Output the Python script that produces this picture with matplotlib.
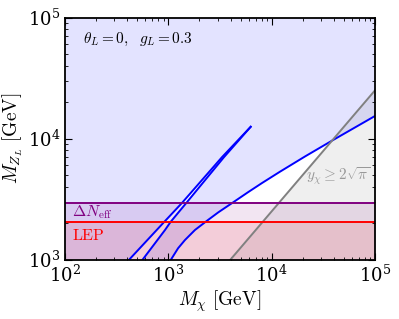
import numpy as np
import matplotlib
matplotlib.use("Agg")
import matplotlib.pyplot as plt

plt.rcParams["mathtext.fontset"] = "cm"
plt.rcParams["font.family"] = "serif"
plt.rcParams["font.serif"] = ["DejaVu Serif"]

# funnel: left and right branches (M_chi, M_ZL) in GeV, meeting at the tip
funnel_left_x = [419, 915, 1345, 3300, 6270]
funnel_left_y = [1000, 2050, 2913, 7000, 12500]
funnel_right_x = [565, 929, 1054, 1483, 3450, 6270]
funnel_right_y = [1000, 1754, 2050, 2913, 7000, 12500]

# relic density curve
relic_x = [1062, 1242, 1449, 1811, 2350, 3048, 4102, 5900, 8070, 12050,
           21040, 39260, 100000]
relic_y = [1000, 1238, 1449, 1754, 2081, 2455, 2912, 3596, 4287, 5320,
           7108, 9710, 15350]

# perturbativity line y_chi >= 2 sqrt(pi)
pert_x = [4000, 100000]
pert_y = [1000, 25000]

neff_bound = 2950
lep_bound = 2050

xmin, xmax = 1e2, 1e5
ymin, ymax = 1e3, 1e5

fig = plt.figure(figsize=(3.99, 3.19), dpi=100)
ax = fig.add_axes([65 / 399, 1 - 259.5 / 319, 310 / 399, 242 / 319])
ax.set_xscale("log")
ax.set_yscale("log")

# excluded by relic density (everything above relic curve, outside funnel)
poly_x = [xmin] + funnel_left_x + funnel_right_x[::-1] + relic_x + [xmax, xmin]
poly_y = [ymin] + funnel_left_y + funnel_right_y[::-1] + relic_y + [ymax, ymax]
ax.fill(poly_x, poly_y, color="blue", alpha=0.11, lw=0)

# perturbativity region
ax.fill(pert_x + [xmax], pert_y + [ymin], color="gray", alpha=0.12, lw=0)

ax.axhspan(ymin, neff_bound, color="purple", alpha=0.1, lw=0)
ax.axhspan(ymin, lep_bound, color="red", alpha=0.1, lw=0)

ax.plot(funnel_left_x, funnel_left_y, color="blue", lw=1.4)
ax.plot(funnel_right_x, funnel_right_y, color="blue", lw=1.4)
ax.plot(relic_x, relic_y, color="blue", lw=1.4)
ax.plot(pert_x, pert_y, color="gray", lw=1.4)
ax.axhline(neff_bound, color="purple", lw=1.4)
ax.axhline(lep_bound, color="red", lw=1.4)

ax.text(0.058, 0.91, r"$\theta_L = 0,\ \ g_L = 0.3$", transform=ax.transAxes,
        fontsize=11, va="center", ha="left")
ax.text(0.022, 0.195, r"$\Delta N_{\rm eff}$",
        transform=ax.transAxes, color="purple", fontsize=11.5, va="center")
ax.text(0.022, 0.10, r"$\mathrm{LEP}$", transform=ax.transAxes, color="red",
        fontsize=11.5, va="center")
ax.text(4.4e4, 4900, r"$y_\chi \geq 2\sqrt{\pi}$", color="#999999",
        fontsize=11, ha="center", va="center")

ax.set_xlim(xmin, xmax)
ax.set_ylim(ymin, ymax)
ax.set_xlabel(r"$M_\chi\ [\mathrm{GeV}]$", fontsize=14, labelpad=2)
ax.set_ylabel(r"$M_{Z_L}\ [\mathrm{GeV}]$", fontsize=14, labelpad=2)
ax.tick_params(which="both", direction="in", top=True, right=True, labelsize=13)
ax.tick_params(which="major", length=5)
ax.tick_params(which="minor", length=2.5)
for s in ax.spines.values():
    s.set_linewidth(1.3)

fig.savefig("out.png", dpi=100)
